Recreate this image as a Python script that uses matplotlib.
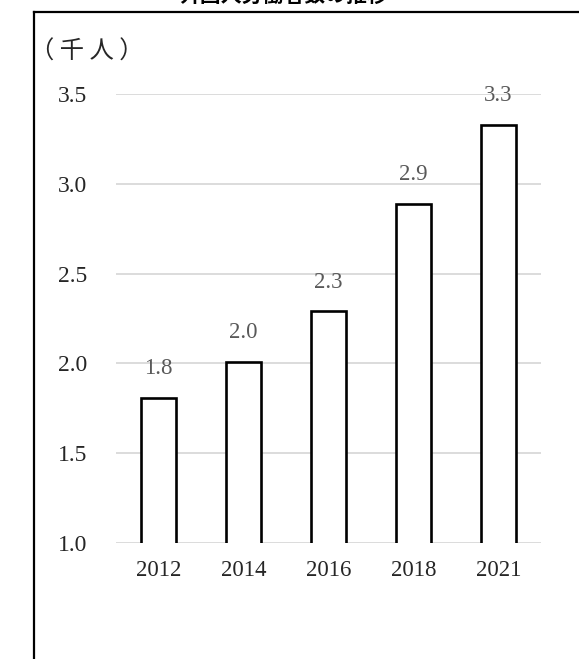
import matplotlib
matplotlib.use("Agg")
import matplotlib.pyplot as plt
from matplotlib.lines import Line2D

years = ["2012", "2014", "2016", "2018", "2021"]
values = [1.81, 2.01, 2.29, 2.89, 3.33]
yticks = [1.0, 1.5, 2.0, 2.5, 3.0, 3.5]

serif = ["Liberation Serif", "DejaVu Serif"]
cjk = ["Noto Sans CJK JP", "DejaVu Sans"]

fig = plt.figure(figsize=(5.79, 6.59), dpi=100)
ax = fig.add_axes([116 / 579, 1 - 543 / 659, 425 / 579, 449 / 659])

x = range(len(years))
bars = ax.bar(x, values, width=0.42, color="white", edgecolor="black", linewidth=1.9, zorder=3)

for xi, v in zip(x, values):
    ax.annotate(f"{v:.1f}", (xi, v), xytext=(0, 17), textcoords="offset points",
                ha="center", va="baseline", fontsize=16.5, color="#595959", family=serif)

ax.set_xlim(-0.5, len(years) - 0.5)
ax.set_ylim(1.0, 3.5)
ax.set_yticks(yticks)
ax.set_yticklabels([f"{t:.1f}" for t in yticks], family=serif, fontsize=17, color="#262626")
ax.set_xticks(list(x))
ax.set_xticklabels(years, family=serif, fontsize=16.5, color="#262626")
ax.tick_params(axis="y", length=0, pad=21)
ax.tick_params(axis="x", length=0, pad=12)
ax.grid(axis="y", color="#d9d9d9", linewidth=1.3, zorder=0)
for s in ax.spines.values():
    s.set_visible(False)

fig.text(30 / 579, 1 - 52 / 659, "（ 千 人 ）", family=cjk, fontsize=17.5, ha="left", va="center",
         color="#262626")

# title, mostly cut off at the top edge
fig.text(0.49, 1 - 1.5 / 659, "外国人労働者数の推移", family=cjk, fontsize=15, fontweight="bold",
         ha="center", va="baseline")

# frame of the chart box
fig.add_artist(Line2D([34 / 579, 34 / 579], [0, 1 - 12 / 659], color="black", linewidth=1.6))
fig.add_artist(Line2D([34 / 579, 1], [1 - 12 / 659, 1 - 12 / 659], color="black", linewidth=1.6))

fig.savefig("out.png", dpi=100)
